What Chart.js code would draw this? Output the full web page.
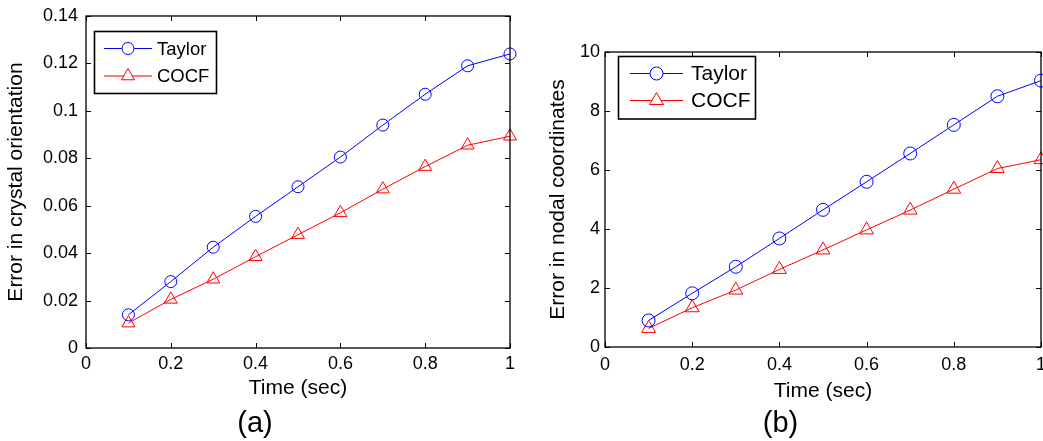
<!DOCTYPE html>
<html>
<head>
<meta charset="utf-8">
<script src="https://cdn.jsdelivr.net/npm/chart.js@4"></script>
<style>
  body { margin: 0; background: #fff; }
  .wrap { position: absolute; top: 0; height: 441px; }
</style>
</head>
<body>
<div class="wrap" style="left:0;width:520px"><canvas id="chartA" width="520" height="441"></canvas></div>
<div class="wrap" style="left:520px;width:523px"><canvas id="chartB" width="523" height="441"></canvas></div>
<script>
// time steps (sec)
const times = [0.1, 0.2, 0.3, 0.4, 0.5, 0.6, 0.7, 0.8, 0.9, 1.0];

// (a) error in crystal orientation
const taylorA = [0.014, 0.028, 0.0425, 0.0555, 0.068, 0.0805, 0.094, 0.107, 0.119, 0.124];
const cocfA   = [0.0105, 0.0205, 0.029, 0.0385, 0.0478, 0.057, 0.067, 0.0765, 0.0855, 0.0893];

// (b) error in nodal coordinates
const taylorB = [0.9, 1.82, 2.72, 3.68, 4.65, 5.6, 6.56, 7.53, 8.5, 9.03];
const cocfB   = [0.63, 1.33, 1.93, 2.63, 3.29, 3.97, 4.64, 5.35, 6.05, 6.35];

const xTicks = [0, 0.2, 0.4, 0.6, 0.8, 1];
const xLabels = ['0', '0.2', '0.4', '0.6', '0.8', '1'];
const yTicksA = [0, 0.02, 0.04, 0.06, 0.08, 0.1, 0.12, 0.14];
const yLabelsA = ['0', '0.02', '0.04', '0.06', '0.08', '0.1', '0.12', '0.14'];
const yTicksB = [0, 2, 4, 6, 8, 10];
const yLabelsB = ['0', '2', '4', '6', '8', '10'];

const FONT = 'Arial, "Liberation Sans", Helvetica, sans-serif';

function pts(ys) {
  return times.map((t, i) => ({ x: t, y: ys[i] }));
}

// MATLAB style box with inward ticks, plus the legend drawn inside the axes
const frame = {
  id: 'frame',
  afterDraw(chart, args, opts) {
    const { ctx, chartArea: a, scales: { x, y } } = chart;
    ctx.save();
    ctx.strokeStyle = '#000';
    ctx.lineWidth = 1;
    const tl = 5;
    ctx.beginPath();
    x.ticks.forEach(t => {
      const px = Math.round(x.getPixelForValue(t.value)) + 0.5;
      ctx.moveTo(px, a.bottom); ctx.lineTo(px, a.bottom - tl);
      ctx.moveTo(px, a.top); ctx.lineTo(px, a.top + tl);
    });
    y.ticks.forEach(t => {
      const py = Math.round(y.getPixelForValue(t.value)) + 0.5;
      ctx.moveTo(a.left, py); ctx.lineTo(a.left + tl, py);
      ctx.moveTo(a.right, py); ctx.lineTo(a.right - tl, py);
    });
    ctx.stroke();
    ctx.lineWidth = 1.3;
    ctx.strokeRect(a.left, a.top, a.right - a.left, a.bottom - a.top);

    // legend
    const L = opts.legend;
    ctx.fillStyle = '#fff';
    ctx.fillRect(L.x, L.y, L.w, L.h);
    ctx.lineWidth = 1.6;
    ctx.strokeRect(L.x, L.y, L.w, L.h);
    chart.data.datasets.forEach((ds, i) => {
      const ry = L.rows[i];
      ctx.strokeStyle = ds.borderColor;
      ctx.lineWidth = 1;
      ctx.beginPath();
      ctx.moveTo(L.x1, ry); ctx.lineTo(L.x2, ry);
      ctx.stroke();
      const mx = (L.x1 + L.x2) / 2;
      const r = ds.pointRadius;
      ctx.beginPath();
      if (ds.pointStyle === 'triangle') {
        let rad = 0;
        ctx.moveTo(mx + Math.sin(rad) * r, ry - Math.cos(rad) * r);
        rad += 2 * Math.PI / 3;
        ctx.lineTo(mx + Math.sin(rad) * r, ry - Math.cos(rad) * r);
        rad += 2 * Math.PI / 3;
        ctx.lineTo(mx + Math.sin(rad) * r, ry - Math.cos(rad) * r);
        ctx.closePath();
      } else {
        ctx.arc(mx, ry, r, 0, Math.PI * 2);
      }
      ctx.fillStyle = '#fff';
      ctx.fill();
      ctx.stroke();
      ctx.fillStyle = '#000';
      ctx.font = L.font + 'px ' + FONT;
      ctx.textBaseline = 'middle';
      ctx.textAlign = 'left';
      ctx.fillText(ds.label, L.tx, ry + 1);
    });
    ctx.restore();
  }
};

function makeChart(id, cfg) {
  return new Chart(document.getElementById(id), {
    type: 'line',
    data: {
      datasets: [
        {
          label: 'Taylor', data: pts(cfg.taylor),
          borderColor: '#0000ff', backgroundColor: 'rgba(0,0,0,0)',
          borderWidth: 1, pointStyle: 'circle', pointRadius: cfg.rc,
          pointBorderWidth: 1, pointBackgroundColor: 'rgba(0,0,0,0)',
          clip: false
        },
        {
          label: 'COCF', data: pts(cfg.cocf),
          borderColor: '#ff0000', backgroundColor: 'rgba(0,0,0,0)',
          borderWidth: 1, pointStyle: 'triangle', pointRadius: cfg.rt,
          pointBorderWidth: 1, pointBackgroundColor: 'rgba(0,0,0,0)',
          clip: false
        }
      ]
    },
    options: {
      responsive: false,
      animation: false,
      devicePixelRatio: 1,
      layout: { autoPadding: false, padding: { left: 0, right: cfg.padRight, top: cfg.padTop, bottom: 0 } },
      plugins: {
        legend: { display: false },
        tooltip: { enabled: false },
        title: {
          display: true, position: 'bottom', text: cfg.title, color: '#000',
          font: { family: FONT, size: 29, weight: 'normal' },
          padding: { top: 2, bottom: 0 }
        },
        frame: { legend: cfg.legend }
      },
      scales: {
        x: {
          type: 'linear', min: 0, max: 1,
          grid: { display: false, drawTicks: false },
          border: { display: false },
          afterBuildTicks: s => { s.ticks = xTicks.map(v => ({ value: v })); },
          afterFit: s => { s.height = cfg.xHeight; s.paddingLeft = 0; s.paddingRight = 0; },
          ticks: {
            color: '#000', padding: cfg.xTickPad, maxRotation: 0,
            font: { family: FONT, size: 18 },
            callback: (v, i) => xLabels[i]
          },
          title: {
            display: true, text: 'Time (sec)', color: '#000',
            font: { family: FONT, size: 21 },
            padding: { top: 0, bottom: cfg.xTitlePad }
          }
        },
        y: {
          type: 'linear', min: cfg.yTicks[0], max: cfg.yTicks[cfg.yTicks.length - 1],
          grid: { display: false, drawTicks: false },
          border: { display: false },
          afterBuildTicks: s => { s.ticks = cfg.yTicks.map(v => ({ value: v })); },
          afterFit: s => { s.width = cfg.yWidth; s.paddingTop = 0; s.paddingBottom = 0; },
          ticks: {
            color: '#000', padding: cfg.yTickPad,
            font: { family: FONT, size: 18 },
            callback: (v, i) => cfg.yLabels[i]
          },
          title: {
            display: true, text: cfg.yTitle, color: '#000',
            font: { family: FONT, size: 21 },
            padding: { top: cfg.yTitlePad, bottom: 0 }
          }
        }
      }
    },
    plugins: [frame]
  });
}

makeChart('chartA', {
  taylor: taylorA, cocf: cocfA, title: '(a)',
  yTitle: 'Error in crystal orientation',
  yTicks: yTicksA, yLabels: yLabelsA,
  rc: 6, rt: 7.5,
  padRight: 10, padTop: 16,
  xHeight: 56.2, xTickPad: 5, xTitlePad: 3.6,
  yWidth: 86, yTickPad: 8, yTitlePad: 4,
  legend: { x: 94.5, y: 31.5, w: 122, h: 62, x1: 104, x2: 152, tx: 157, rows: [48.5, 76], font: 18.5 }
});

makeChart('chartB', {
  taylor: taylorB, cocf: cocfB, title: '(b)',
  yTitle: 'Error in nodal coordinates',
  yTicks: yTicksB, yLabels: yLabelsB,
  rc: 6.5, rt: 8,
  padRight: 2, padTop: 52,
  xHeight: 57.2, xTickPad: 7, xTitlePad: 0,
  yWidth: 85, yTickPad: 5, yTitlePad: 25.7,
  legend: { x: 98.5, y: 56.5, w: 137, h: 62.5, x1: 110, x2: 163, tx: 171, rows: [73.5, 100.5], font: 21 }
});
</script>
</body>
</html>
